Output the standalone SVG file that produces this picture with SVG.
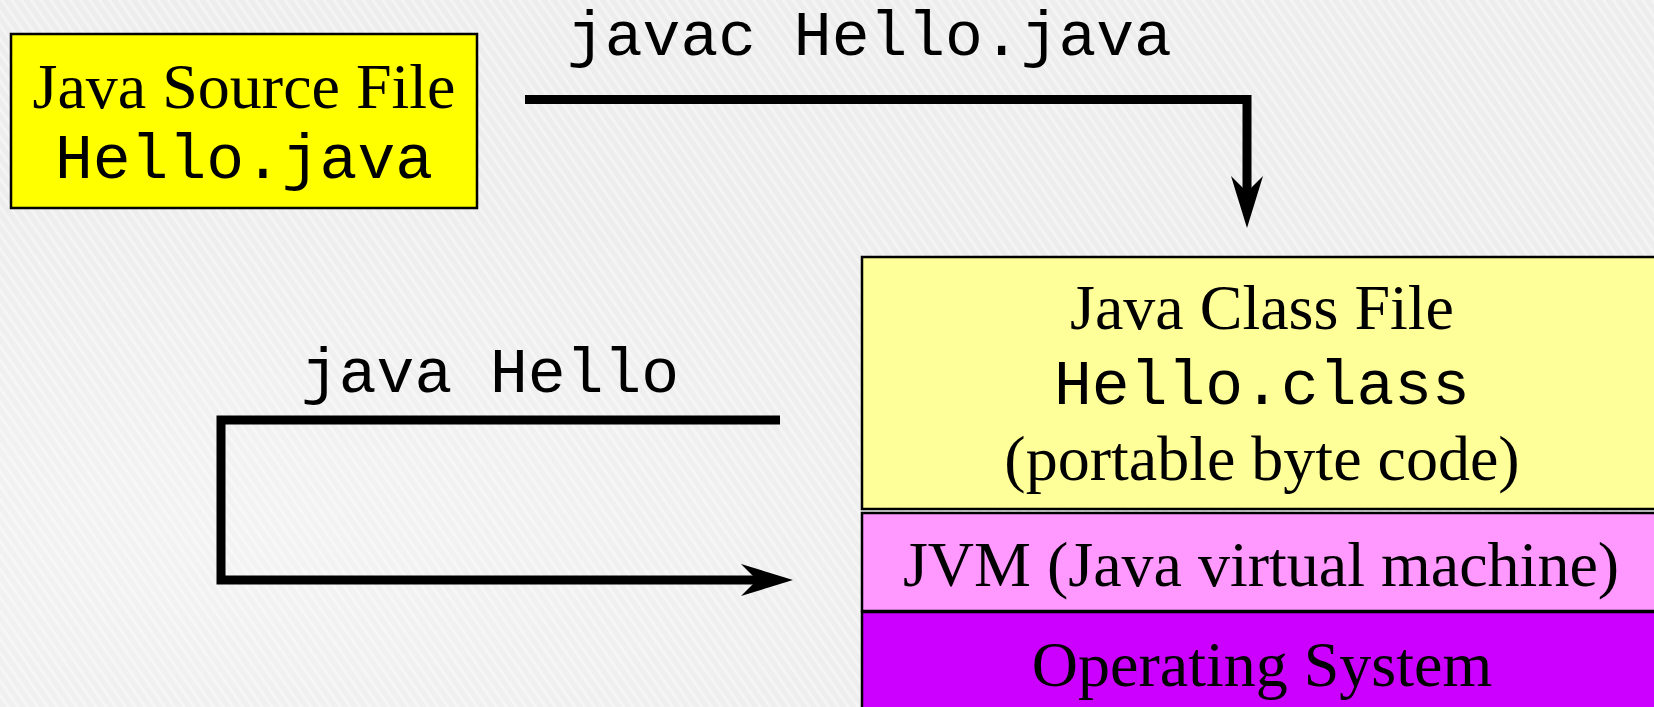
<svg xmlns="http://www.w3.org/2000/svg" width="1654" height="707" viewBox="0 0 1654 707">
<defs>
<pattern id="stripes" width="8" height="8" patternUnits="userSpaceOnUse" patternTransform="rotate(-35)">
<rect width="8" height="8" fill="#EDEDED"/>
<rect width="3" height="8" fill="#F4F4F4"/>
</pattern>
<radialGradient id="glow" cx="0.15" cy="0.75" r="0.5">
<stop offset="0" stop-color="#FFFFFF" stop-opacity="0.35"/>
<stop offset="1" stop-color="#FFFFFF" stop-opacity="0"/>
</radialGradient>
</defs>
<style>
.serif{font-family:"Liberation Serif","Times New Roman",serif;font-size:64px;fill:#000}
.mono{font-family:"Liberation Mono","Courier New",monospace;font-size:63px;fill:#000}
.box{stroke:#000;stroke-width:2.5}
.conn{fill:none;stroke:#000;stroke-width:9;stroke-linejoin:miter;stroke-linecap:butt}
.head{fill:#000;stroke:none}
</style>
<rect width="1654" height="707" fill="url(#stripes)"/>
<rect width="1654" height="707" fill="url(#glow)"/>

<g id="source">
<rect class="box" x="11" y="34" width="466" height="174" fill="#FFFF00"/>
<text class="serif" x="244" y="108" text-anchor="middle">Java Source File</text>
<text class="mono" x="244" y="178" text-anchor="middle">Hello.java</text>
</g>

<g id="classfile">
<rect class="box" x="862" y="257" width="800" height="252" fill="#FFFF99"/>
<text class="serif" x="1262" y="329" text-anchor="middle">Java Class File</text>
<text class="mono" x="1262" y="404" text-anchor="middle">Hello.class</text>
<text class="serif" x="1262" y="480" text-anchor="middle">(portable byte code)</text>
</g>

<g id="jvm">
<rect class="box" x="862" y="513" width="800" height="98" fill="#FF99FF"/>
<text class="serif" x="1261" y="586" text-anchor="middle">JVM (Java virtual machine)</text>
</g>

<g id="os">
<rect class="box" x="862" y="612" width="800" height="110" fill="#CC00FF"/>
<text class="serif" x="1262" y="686" text-anchor="middle">Operating System</text>
</g>

<g id="connectors">
<path class="conn" d="M525,99.5 H1247 V195"/>
<path class="head" d="M1247,228 L1231,176 L1247,192 L1263,176 Z"/>
<text class="mono" x="567" y="55">javac Hello.java</text>
<path class="conn" d="M780,420 H221 V580 H760"/>
<path class="head" d="M793,580 L741,564 L757,580 L741,596 Z"/>
<text class="mono" x="301" y="392">java Hello</text>
</g>
</svg>
